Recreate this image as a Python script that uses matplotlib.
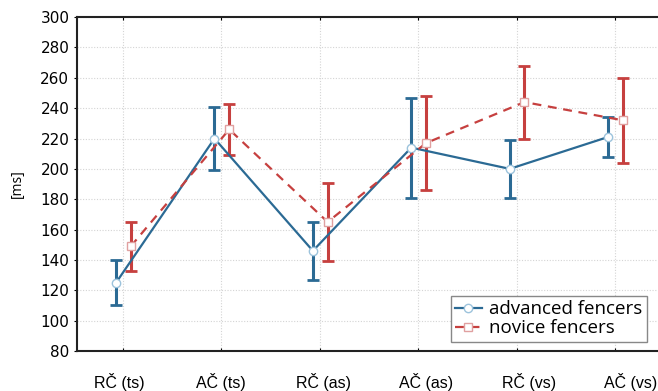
import numpy as np
import matplotlib.pyplot as plt
from matplotlib.transforms import ScaledTranslation, blended_transform_factory

categories = ["RČ (ts)", "AČ (ts)", "RČ (as)", "AČ (as)", "RČ (vs)", "AČ (vs)"]
adv_mean = [125, 220, 146, 214, 200, 221]
adv_err = [15, 21, 19, 33, 19, 13]
nov_mean = [149, 226, 165, 217, 244, 232]
nov_err = [16, 17, 26, 31, 24, 28]

blue = "#2b6a94"
red = "#c6403f"

fig = plt.figure(figsize=(6.58, 3.91), dpi=100)
ax = fig.add_axes([0.117, 0.1023, 0.883, 0.854])

x = np.arange(len(categories))
adv = ax.errorbar(x - 0.07, adv_mean, yerr=adv_err, color=blue, lw=1.6, marker="o",
                  ms=6, mfc="white", mec="#9cc3dc", ecolor=blue, elinewidth=2.2,
                  capsize=4, capthick=2)
nov = ax.errorbar(x + 0.08, nov_mean, yerr=nov_err, color=red, lw=1.6, ls=(0, (4, 3)),
                  marker="s", ms=6, mfc="white", mec="#e0a0a0", ecolor=red,
                  elinewidth=2.2, capsize=4, capthick=2)

ax.set_xlim(-0.467, 5.437)
ax.set_ylim(80, 300)
ax.set_yticks(range(80, 301, 20))
ax.set_xticks(x)
ax.set_xticklabels([])
# category labels, drifting slightly right like in the source image
base = blended_transform_factory(ax.transData, ax.transAxes)
for i, cat in enumerate(categories):
    off = ScaledTranslation((-4 + 4 * i) / 100, -31 / 100, fig.dpi_scale_trans)
    ax.text(i, 0, cat, transform=base + off, ha="center", va="center",
            fontsize=11.5, family="Liberation Sans", clip_on=False)
ax.tick_params(axis="x", length=2, top=True, direction="in")
ax.tick_params(axis="y", length=2, labelsize=11, direction="out")
ax.grid(True, color="#d4d4d4", ls=(0, (1, 1.5)), lw=0.8)
ax.set_axisbelow(True)
for s in ["left", "bottom", "top"]:
    ax.spines[s].set_linewidth(1.5)
    ax.spines[s].set_color("#222222")
ax.spines["right"].set_visible(False)
ax.set_ylabel("[ms]", fontsize=10, family="Open Sans", labelpad=11)

ax.legend([adv.lines[0], nov.lines[0]], ["advanced fencers", "novice fencers"],
          loc="lower right", bbox_to_anchor=(0.981, 0.027),
          prop={"family": "Open Sans", "size": 13.5}, fancybox=False,
          edgecolor="#888888", framealpha=1, handlelength=1.4,
          borderpad=0.25, labelspacing=0.05, handletextpad=0.4, borderaxespad=0)

fig.savefig("out.png", dpi=100)
